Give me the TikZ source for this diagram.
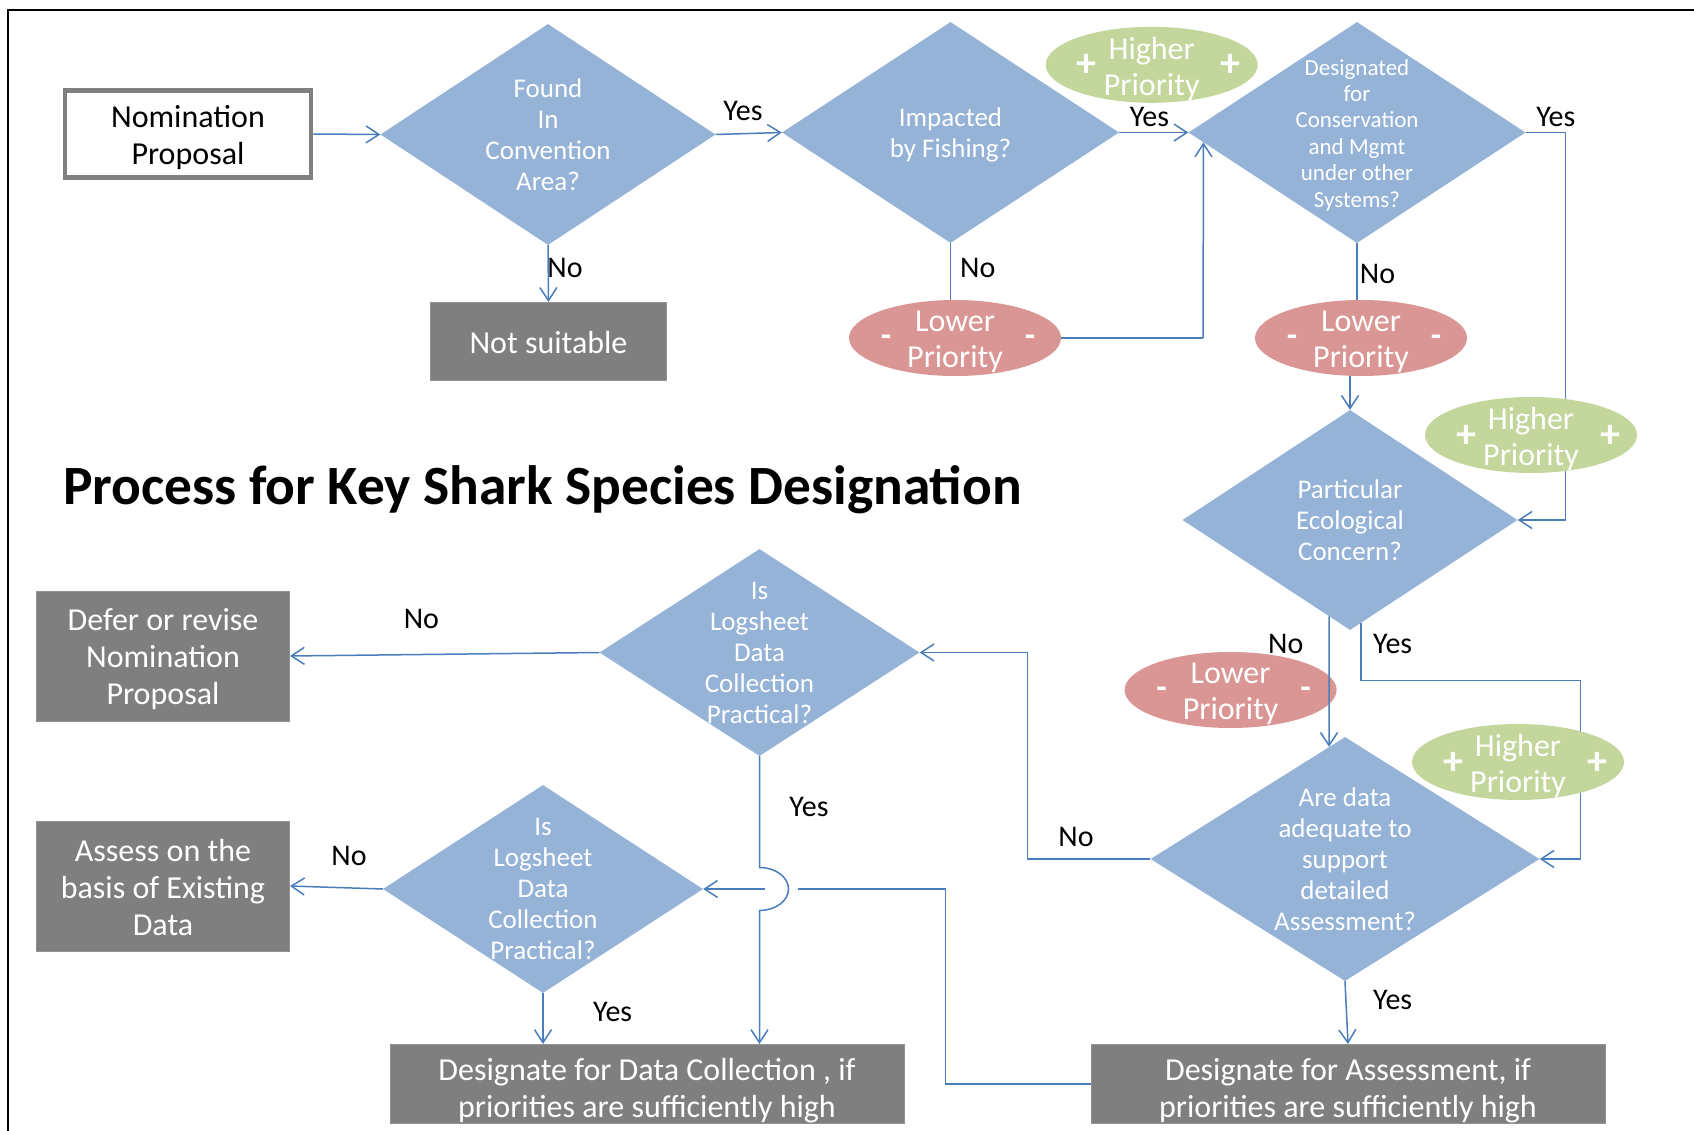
\documentclass[tikz,border=0pt]{standalone}
\usepackage{fontspec}
\setmainfont{Carlito}
\usetikzlibrary{shapes.geometric,arrows.meta,calc}
\definecolor{diablue}{HTML}{95B3D7}
\definecolor{lpred}{HTML}{D99694}
\definecolor{hpgreen}{HTML}{C3D69B}
\definecolor{boxgray}{HTML}{7F7F7F}
\definecolor{linkblue}{HTML}{4A7EBB}
\definecolor{nomgray}{HTML}{808080}
\begin{document}
\begin{tikzpicture}[x=1pt,y=-1pt,
  dia/.style={diamond, fill=diablue, draw=none, inner sep=0pt},
  dtext/.style={text=white, align=center, inner sep=0pt, font=\fontsize{27}{31}\selectfont},
  dtsmall/.style={text=white, align=center, inner sep=0pt, font=\fontsize{23}{26.4}\selectfont},
  gbox/.style={rectangle, fill=boxgray, draw=boxgray!85!white, line width=1pt, inner sep=0pt},
  btext/.style={text=white, align=center, inner sep=0pt, font=\fontsize{32}{37}\selectfont},
  nbox/.style={rectangle, fill=white, draw=nomgray, line width=4.5pt, inner sep=0pt},
  lpell/.style={ellipse, fill=lpred, draw=none, minimum width=212pt, minimum height=76pt, inner sep=0pt},
  hpell/.style={ellipse, fill=hpgreen, draw=none, minimum width=212pt, minimum height=76pt, inner sep=0pt},
  etext/.style={text=white, align=center, inner sep=0pt, font=\fontsize{32}{36}\selectfont},
  plussign/.style={text=white, inner sep=0pt, font=\bfseries\fontsize{40}{40}\selectfont},
  minussign/.style={text=white, inner sep=0pt, font=\bfseries\fontsize{34}{34}\selectfont},
  conn/.style={draw=linkblue, line width=1.5pt},
  arr/.style={conn, -{Straight Barb[length=13pt,width=17pt]}},
  lab/.style={text=black, inner sep=0pt, font=\fontsize{30}{32}\selectfont}
]
\useasboundingbox (0,0) rectangle (1694,1131);
\fill[white] (0,0) rectangle (1694,1131);
\draw[line width=2pt] (8,1131) -- (8,10) -- (1694,10);

% title
\node[anchor=base west, inner sep=0pt, font=\bfseries\fontsize{55.4}{60}\selectfont] (title) at (63,504.5) {Process for Key Shark Species Designation};

% start box
\node[nbox, minimum width=246pt, minimum height=87pt] (nom) at (188,134) {};
\node[btext, text=black] (nomt) at ($(nom)+(0,4)$) {Nomination\\Proposal};

% diamonds
\node[dia, minimum width=335pt, minimum height=221pt] (d1) at (548,134.5) {};
\node[dtext] (d1t) at (d1) {Found\\In\\Convention\\Area?};
\node[dia, minimum width=337pt, minimum height=221pt] (d2) at (950.5,132.5) {};
\node[dtext] (d2t) at ($(d2)+(0,2.5)$) {Impacted\\by Fishing?};
\node[dia, minimum width=337pt, minimum height=221pt] (d3) at (1357,132.5) {};
\node[dtsmall] (d3t) at ($(d3)+(0,2.5)$) {Designated\\for\\Conservation\\and Mgmt\\under other\\Systems?};
\node[dia, minimum width=335pt, minimum height=220pt] (d4) at (1350,520) {};
\node[dtext] (d4t) at (d4) {Particular\\Ecological\\Concern?};
\node[dia, minimum width=320pt, minimum height=207pt] (d5) at (759.5,652.5) {};
\node[dtext] (d5t) at (d5) {Is\\Logsheet\\Data\\Collection\\Practical?};
\node[dia, minimum width=389pt, minimum height=244pt] (d6) at (1345,859) {};
\node[dtext] (d6t) at (d6) {Are data\\adequate to\\support\\detailed\\Assessment?};
\node[dia, minimum width=320pt, minimum height=208pt] (d7) at (543,889) {};
\node[dtext] (d7t) at (d7) {Is\\Logsheet\\Data\\Collection\\Practical?};

% gray boxes
\node[gbox, minimum width=236pt, minimum height=78pt] (ns) at (548.5,341.4) {};
\node[btext] (nst) at ($(ns)+(0,1)$) {Not suitable};
\node[gbox, minimum width=253pt, minimum height=130pt] (defer) at (163,656) {};
\node[btext] (defert) at ($(defer)+(0,3.5)$) {Defer or revise\\Nomination\\Proposal};
\node[gbox, minimum width=253pt, minimum height=130pt] (assess) at (163,886) {};
\node[btext] (assesst) at ($(assess)+(0,2)$) {Assess on the\\basis of Existing\\Data};
\node[gbox, minimum width=514pt, minimum height=79pt] (ddc) at (647,1084) {};
\node[btext] (ddct) at ($(ddc)+(0,6.5)$) {Designate for Data Collection , if\\priorities are sufficiently high};
\node[gbox, minimum width=514pt, minimum height=79pt] (da) at (1348,1084) {};
\node[btext] (dat) at ($(da)+(0,6.5)$) {Designate for Assessment, if\\priorities are sufficiently high};

% helper coordinates
\coordinate (d3in) at ($(d3.west)!0.09!(d3.south)$);
\coordinate (c1) at (1203,338);
\coordinate (d3out) at ($(d3.east)+(40,0)$);
\coordinate (d4no) at ($(d4.south)!0.125!(d4.west)$);
\coordinate (d6in) at ($(d6.north)!0.082!(d6.west)$);
\coordinate (d4yes) at ($(d4.south)!0.066!(d4.east)$);
\coordinate (c2) at (1580.5,680.5);
\coordinate (c3) at (1027.5,859);
\coordinate (hoptop) at (759.5,867.5);
\coordinate (hopbot) at (759.5,910.5);
\coordinate (c4) at (945.5,1084);
\coordinate (hopR) at (798,889);
\coordinate (hopL) at (765,889);

% connectors (behind ellipses)
\draw[arr] (nom.east) -- (d1.west);
\draw[arr] (d1.east) -- (d2.west);
\draw[arr] (d1.south) -- (ns.north);
\draw[arr] (d2.east) -- (d3.west);
\draw[conn] (d2.south) -- (d2.south |- 0,300);
\draw[conn] (d3.south) -- (d3.south |- 0,300);
\draw[arr] (c1) -- (d3in);
\draw[arr] (d3.east) -- (d3out) |- (d4.east);
\draw[arr] (d4yes) |- (c2) |- (d6.east);
\draw[arr] (d6.west) -- (c3) |- (d5.east);
\draw[arr] (d5.west) -- (defer.east);
\draw[arr] (d7.west) -- (assess.east);
\draw[arr] (d7.south) -- (d7.south |- ddc.north);
\draw[arr] (d6.south) -- (da.north);
\draw[arr] (d5.south) -- (hoptop) arc[start angle=-90, end angle=90, x radius=29, y radius=21.5] -- (hopbot |- ddc.north);
\draw[arr] (da.west) -- (c4) |- (hopR) (hopL) -- (d7.east);

% ellipses
\node[hpell] (hp1) at (1151.7,64.8) {};
\node[lpell] (lp1) at (955,338) {};
\node[lpell] (lp2) at (1361,338) {};
\node[hpell] (hp2) at (1531,435) {};
\node[lpell] (lp3) at (1230.6,690) {};
\node[hpell] (hp3) at (1518,762) {};
\foreach \n in {hp1,hp2,hp3}{
  \node[etext] (\n-t) at ($(\n)+(0,4)$) {Higher\\Priority};
  \node[plussign] (\n-l) at ($(\n)+(-65,1)$) {+};
  \node[plussign] (\n-r) at ($(\n)+(79,1)$) {+};
}
\foreach \n in {lp1,lp2,lp3}{
  \node[etext] (\n-t) at ($(\n)+(0,4)$) {Lower\\Priority};
  \node[minussign] (\n-l) at ($(\n)+(-69,3)$) {-};
  \node[minussign] (\n-r) at ($(\n)+(75,3)$) {-};
}

% connectors touching ellipses
\draw[conn] (lp1.east) -| (c1);
\draw[arr] (lp2.south -| d4.north) -- (d4.north);
\draw[arr] (d4no) -- (d6in);

% labels
\node[lab] (y1) at (743,111) {Yes};
\node[lab] (n1) at (565,268) {No};
\node[lab] (y2) at (1149.5,116.7) {Yes};
\node[lab] (n2) at (977.8,268) {No};
\node[lab] (n3) at (1377.5,274.4) {No};
\node[lab] (y3) at (1555.8,116.7) {Yes};
\node[lab] (n4) at (1285.7,643.9) {No};
\node[lab] (y4) at (1392.6,643.9) {Yes};
\node[lab] (n5) at (1076,837.3) {No};
\node[lab] (n6) at (421.4,619) {No};
\node[lab] (y5) at (809,807) {Yes};
\node[lab] (n7) at (349,855.7) {No};
\node[lab] (y6) at (612.6,1012.3) {Yes};
\node[lab] (y7) at (1392.6,1000.4) {Yes};
\end{tikzpicture}
\end{document}
